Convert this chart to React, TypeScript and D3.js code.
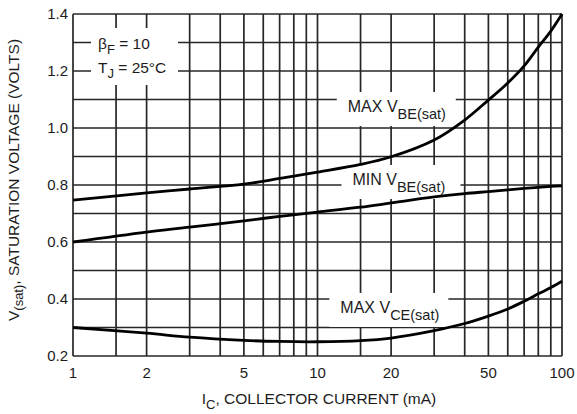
import React from "react";
import * as d3 from "d3";

// ---- data ----
const currentMA = [1, 2, 3, 5, 7, 10, 15, 20, 30, 40, 50, 60, 70, 80, 90, 100];
const maxVbeSat = [0.747, 0.772, 0.786, 0.803, 0.823, 0.845, 0.872, 0.899, 0.958, 1.028, 1.098, 1.158, 1.218, 1.284, 1.34, 1.4];
const minVbeSat = [0.6, 0.635, 0.652, 0.674, 0.69, 0.705, 0.722, 0.737, 0.758, 0.77, 0.777, 0.783, 0.788, 0.792, 0.795, 0.797];
const maxVceSat = [0.3, 0.28, 0.266, 0.255, 0.251, 0.25, 0.254, 0.263, 0.289, 0.314, 0.34, 0.365, 0.392, 0.418, 0.44, 0.462];

const xTickLabels = [1, 2, 5, 10, 20, 50, 100];
const xGridValues = [1, 1.5, 2, 3, 4, 5, 6, 7, 8, 9, 10, 15, 20, 30, 40, 50, 60, 70, 80, 90, 100];
const yTickLabels = [0.2, 0.4, 0.6, 0.8, 1.0, 1.2, 1.4];
const yGridValues = [0.2, 0.3, 0.4, 0.5, 0.6, 0.7, 0.8, 0.9, 1.0, 1.1, 1.2, 1.3, 1.4];

const seriesMain = ["MAX V", "MIN V", "MAX V"];
const seriesSub = ["BE(sat)", "BE(sat)", "CE(sat)"];
const seriesValues = [maxVbeSat, minVbeSat, maxVceSat];
// label anchors in data units (current mA, volts)
const labelAnchorX = [13.3, 13.9, 12.4];
const labelAnchorY = [1.056, 0.8, 0.351];

const W = 577;
const H = 414;
const FONT = "'Liberation Sans', Arial, Helvetica, sans-serif";
const INK = "#1c1c1c";

export default function App() {
  const x = d3.scaleLog().domain([1, 100]).range([73, 562]);
  const y = d3.scaleLinear().domain([0.2, 1.4]).range([356, 14]);

  const line = d3
    .line<[number, number]>()
    .x((d) => x(d[0]))
    .y((d) => y(d[1]))
    .curve(d3.curveCatmullRom.alpha(0.5));

  const gridColor = "#262626";

  return (
    <svg
      width={W}
      height={H}
      style={{ position: "absolute", left: 0, top: 0, background: "#fff" }}
      fontFamily={FONT}
    >
      <rect x={0} y={0} width={W} height={H} fill="#fff" />
      {/* grid */}
      <g stroke={gridColor} strokeWidth={1.7}>
        {yGridValues.map((v) => (
          <line key={"h" + v} x1={x(1)} x2={x(100)} y1={y(v)} y2={y(v)} />
        ))}
        {xGridValues.map((v) => (
          <line key={"v" + v} x1={x(v)} x2={x(v)} y1={y(0.2)} y2={y(1.4)} />
        ))}
      </g>

      {/* white boxes behind annotations */}
      <rect x={91} y={28} width={87} height={57} fill="#fff" />
      {seriesMain.map((m, i) => {
        const ax = x(labelAnchorX[i]);
        const ay = y(labelAnchorY[i]);
        return <rect key={"b" + i} x={ax - 11} y={ay - 20} width={119} height={34} fill="#fff" />;
      })}

      {/* curves */}
      {seriesValues.map((vals, i) => (
        <path
          key={"c" + i}
          d={line(currentMA.map((c, k) => [c, vals[k]] as [number, number])) || ""}
          fill="none"
          stroke="#000"
          strokeWidth={2.8}
          strokeLinejoin="round"
        />
      ))}

      {/* curve labels */}
      {seriesMain.map((m, i) => {
        const ax = x(labelAnchorX[i]);
        const ay = y(labelAnchorY[i]);
        return (
          <text key={"t" + i} x={ax} y={ay} fontSize={16} fill={INK}>
            {m}
            <tspan fontSize={14.5} dy={7}>
              {seriesSub[i]}
            </tspan>
          </text>
        );
      })}

      {/* conditions */}
      <text x={98} y={49} fontSize={15.5} fill={INK}>
        β
        <tspan fontSize={13} dy={5}>F</tspan>
        <tspan dy={-5}> = 10</tspan>
      </text>
      <text x={98} y={73} fontSize={15.5} fill={INK}>
        T
        <tspan fontSize={13} dy={5}>J</tspan>
        <tspan dy={-5}> = 25°C</tspan>
      </text>

      {/* y tick labels */}
      {yTickLabels.map((v) => (
        <text
          key={"yl" + v}
          x={68}
          y={y(v)}
          dy="0.36em"
          textAnchor="end"
          fontSize={15}
          fill={INK}
        >
          {v.toFixed(1)}
        </text>
      ))}

      {/* x tick labels */}
      {xTickLabels.map((v) => (
        <text key={"xl" + v} x={x(v)} y={378} textAnchor="middle" fontSize={15} fill={INK}>
          {v}
        </text>
      ))}

      {/* axis titles */}
      <text x={319} y={404} textAnchor="middle" fontSize={15.5} fill={INK}>
        I
        <tspan fontSize={13} dy={5}>C</tspan>
        <tspan dy={-5}>, COLLECTOR CURRENT (mA)</tspan>
      </text>
      <text
        transform={`translate(19, 180) rotate(-90)`}
        textAnchor="middle"
        fontSize={15.5}
        fill={INK}
      >
        V
        <tspan fontSize={13} dy={4}>(sat)</tspan>
        <tspan dy={-4}>, SATURATION VOLTAGE (VOLTS)</tspan>
      </text>
    </svg>
  );
}
